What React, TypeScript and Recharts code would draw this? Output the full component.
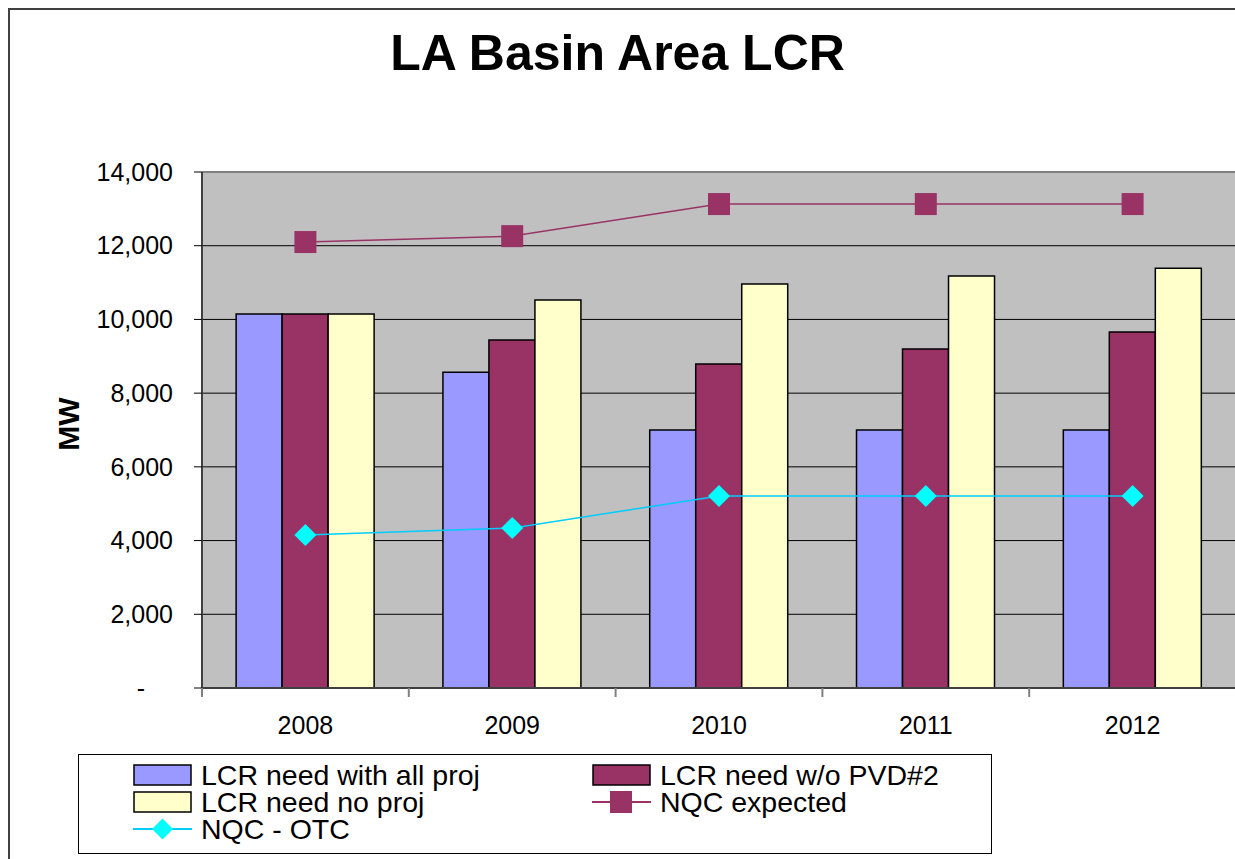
import React from 'react'
import {
    ComposedChart,
    Bar,
    Line,
    XAxis,
    YAxis,
    CartesianGrid,
    ReferenceLine,
} from 'recharts'

const years = ['2008', '2009', '2010', '2011', '2012']
const needAllProj = [10150, 8570, 7000, 7000, 7000]
const needNoPvd2 = [10150, 9440, 8790, 9200, 9660]
const needNoProj = [10150, 10530, 10960, 11180, 11390]
const nqcExpected = [12100, 12260, 13130, 13130, 13130]
const nqcOtc = [4150, 4340, 5210, 5210, 5210]
const yTicks = [0, 2000, 4000, 6000, 8000, 10000, 12000, 14000]

const data = years.map((year, i) => ({
    year,
    allProj: needAllProj[i],
    noPvd2: needNoPvd2[i],
    noProj: needNoProj[i],
    expected: nqcExpected[i],
    otc: nqcOtc[i],
}))

const FONT = '"Liberation Sans", Arial, Helvetica, sans-serif'
const BLUE = '#9999FF'
const MAROON = '#993366'
const CREAM = '#FFFFCC'
const CYAN_LINE = '#00CCFF'
const CYAN_DOT = '#00FFFF'

// eslint-disable-next-line @typescript-eslint/no-explicit-any
const YTick = ({ x, y, payload }: any) => {
    const v = payload.value as number
    if (v === 0) {
        return (
            <text x={x - 28} y={y} dy="0.35em" textAnchor="end" fontSize={25} fontFamily={FONT} fill="#000">
                -
            </text>
        )
    }
    return (
        <text x={x} y={y} dy="0.35em" textAnchor="end" fontSize={25} fontFamily={FONT} fill="#000">
            {v.toLocaleString('en-US')}
        </text>
    )
}

// eslint-disable-next-line @typescript-eslint/no-explicit-any
const XTick = ({ x, y, payload }: any) => {
    const half = payload.offset ?? 0
    return (
        <g>
            <line x1={x - half} x2={x - half} y1={y - 9} y2={y} stroke="#808080" strokeWidth={2} />
            <text x={x} y={y + 28} dy="0.35em" textAnchor="middle" fontSize={25} fontFamily={FONT} fill="#000">
                {payload.value}
            </text>
        </g>
    )
}

// eslint-disable-next-line @typescript-eslint/no-explicit-any
const SquareDot = (props: any) => {
    const { cx, cy, index } = props
    if (cx == null || cy == null) return <g key={`sq-${index}`} />
    return <rect key={`sq-${index}`} x={cx - 11} y={cy - 11} width={22} height={22} fill={MAROON} />
}

// eslint-disable-next-line @typescript-eslint/no-explicit-any
const DiamondDot = (props: any) => {
    const { cx, cy, index } = props
    if (cx == null || cy == null) return <g key={`dm-${index}`} />
    const r = 11
    return (
        <polygon
            key={`dm-${index}`}
            points={`${cx},${cy - r} ${cx + r},${cy} ${cx},${cy + r} ${cx - r},${cy}`}
            fill={CYAN_DOT}
        />
    )
}

// eslint-disable-next-line @typescript-eslint/no-explicit-any
const AxisTitle = ({ viewBox }: any) => {
    const cy = viewBox.y + viewBox.height / 2 - 6
    return (
        <text
            x={60}
            y={cy}
            transform={`rotate(-90, 60, ${cy})`}
            textAnchor="middle"
            dy="0.35em"
            fontSize={30}
            fontWeight="bold"
            fontFamily={FONT}
            fill="#000"
        >
            MW
        </text>
    )
}

const Swatch = ({ kind, color }: { kind: 'bar' | 'square' | 'diamond'; color: string }) => (
    <svg width={59} height={26} style={{ flex: 'none', display: 'block' }}>
        {kind === 'bar' && <rect x={1} y={3} width={57} height={20} fill={color} stroke="#000" strokeWidth={1.5} />}
        {kind === 'square' && (
            <>
                <line x1={0} x2={59} y1={13} y2={13} stroke={color} strokeWidth={2} />
                <rect x={18} y={2} width={22} height={22} fill={color} />
            </>
        )}
        {kind === 'diamond' && (
            <>
                <line x1={0} x2={59} y1={13} y2={13} stroke={CYAN_LINE} strokeWidth={2} />
                <polygon points="29.5,2.5 40,13 29.5,23.5 19,13" fill={color} />
            </>
        )}
    </svg>
)

const legendItems: { label: string; kind: 'bar' | 'square' | 'diamond'; color: string; left: number; top: number }[] = [
    { label: 'LCR need with all proj', kind: 'bar', color: BLUE, left: 54, top: 7 },
    { label: 'LCR need w/o PVD#2', kind: 'bar', color: MAROON, left: 513, top: 7 },
    { label: 'LCR need no proj', kind: 'bar', color: CREAM, left: 54, top: 34 },
    { label: 'NQC expected', kind: 'square', color: MAROON, left: 513, top: 34 },
    { label: 'NQC - OTC', kind: 'diamond', color: CYAN_DOT, left: 54, top: 61 },
]

const ChartLegend = () => (
    <div
        style={{
            position: 'absolute',
            left: 70,
            top: 746,
            width: 914,
            height: 100,
            border: '1px solid #000',
            boxSizing: 'border-box',
            background: '#fff',
        }}
    >
        {legendItems.map((it) => (
            <div
                key={it.label}
                style={{
                    position: 'absolute',
                    left: it.left,
                    top: it.top,
                    height: 26,
                    display: 'flex',
                    alignItems: 'center',
                    whiteSpace: 'nowrap',
                }}
            >
                <Swatch kind={it.kind} color={it.color} />
                <span
                    style={{
                        display: 'block',
                        marginLeft: 9,
                        fontSize: 28.5,
                        fontFamily: FONT,
                        lineHeight: '26px',
                        height: 26,
                        color: '#000',
                    }}
                >
                    {it.label}
                </span>
            </div>
        ))}
    </div>
)

export default function App() {
    return (
        <div
            style={{
                position: 'fixed',
                left: 8,
                top: 8,
                width: 1240,
                height: 860,
                overflow: 'hidden',
                background: '#fff',
            }}
        >
            <style>{'html,body{overflow:hidden}'}</style>
            <div
                style={{
                    position: 'absolute',
                    left: 0,
                    top: 0,
                    right: -10,
                    bottom: -10,
                    borderLeft: '2px solid #404040',
                    borderTop: '2px solid #404040',
                    pointerEvents: 'none',
                }}
            />
            <div
                style={{
                    position: 'absolute',
                    left: 0,
                    top: 20,
                    width: 1219,
                    textAlign: 'center',
                    fontFamily: FONT,
                    fontWeight: 'bold',
                    fontSize: 50,
                    lineHeight: '50px',
                }}
            >
                LA Basin Area LCR
            </div>
            <ComposedChart
                width={1260}
                height={851}
                data={data}
                margin={{ top: 164, right: 32, left: 0, bottom: 111 }}
                barCategoryGap="16.5%"
                barGap={0}
            >
                <CartesianGrid vertical={false} stroke="#000" strokeWidth={1} fill="#C0C0C0" fillOpacity={1} />
                <XAxis
                    dataKey="year"
                    height={60}
                    axisLine={{ stroke: '#404040', strokeWidth: 2 }}
                    tickLine={false}
                    tickSize={9}
                    tickMargin={0}
                    tick={<XTick />}
                    interval={0}
                />
                <YAxis
                    width={194}
                    domain={[0, 14000]}
                    ticks={yTicks}
                    interval={0}
                    axisLine={{ stroke: '#404040', strokeWidth: 2 }}
                    tickLine={{ stroke: '#000' }}
                    tickSize={8}
                    tickMargin={21}
                    tick={<YTick />}
                    label={<AxisTitle />}
                />
                <ReferenceLine y={14000} stroke="#808080" strokeWidth={2} />
                <Bar dataKey="allProj" fill={BLUE} stroke="#000" strokeWidth={1.5} isAnimationActive={false} />
                <Bar dataKey="noPvd2" fill={MAROON} stroke="#000" strokeWidth={1.5} isAnimationActive={false} />
                <Bar dataKey="noProj" fill={CREAM} stroke="#000" strokeWidth={1.5} isAnimationActive={false} />
                <Line
                    dataKey="expected"
                    stroke={MAROON}
                    strokeWidth={1.5}
                    dot={SquareDot}
                    activeDot={false}
                    isAnimationActive={false}
                />
                <Line
                    dataKey="otc"
                    stroke={CYAN_LINE}
                    strokeWidth={1.5}
                    dot={DiamondDot}
                    activeDot={false}
                    isAnimationActive={false}
                />
            </ComposedChart>
            <ChartLegend />
        </div>
    )
}
